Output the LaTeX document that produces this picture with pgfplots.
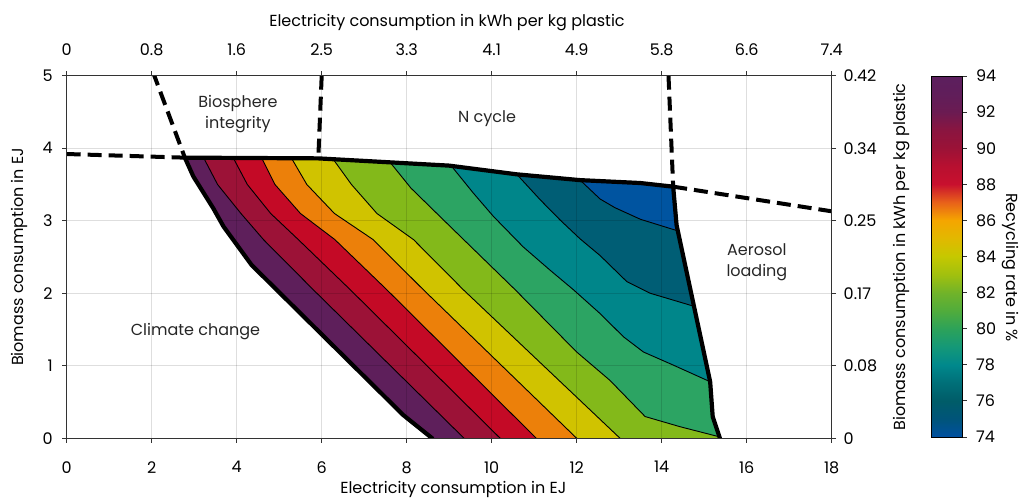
\documentclass[border=0pt]{standalone}
\usepackage{pgfplots}
\pgfplotsset{compat=1.18}
\usepackage{fontspec}
\setmainfont{Poppins}
\definecolor{cPur}{HTML}{5E1F5B}
\definecolor{cCri}{HTML}{9C1237}
\definecolor{cRed}{HTML}{C40A26}
\definecolor{cOra}{HTML}{EC800A}
\definecolor{cYel}{HTML}{D0C300}
\definecolor{cLim}{HTML}{83B91A}
\definecolor{cGre}{HTML}{2CA463}
\definecolor{cTea}{HTML}{00868A}
\definecolor{cDte}{HTML}{005E75}
\definecolor{cBlu}{HTML}{0054A0}
\definecolor{axgray}{HTML}{333333}
\newcommand\fs{\fontsize{16bp}{21bp}\selectfont}
\pgfplotsset{
  /pgf/number format/assume math mode=true,
  every axis/.append style={font=\fs},
  boundary/.style={black, line width=4.2bp, line join=round, line cap=round, forget plot},
  bdash/.style={black, line width=4bp, dash pattern=on 14bp off 7bp, forget plot},
  cline/.style={black, line width=0.9bp, line join=round, forget plot},
  band/.style={draw=none, forget plot},
}
\begin{document}
\fs
\begin{tikzpicture}
\path[use as bounding box] (-66.7bp,-59.7bp) rectangle (957.3bp,438.3bp);
\begin{axis}[
  at={(0,0)}, anchor=south west,
  scale only axis, width=765bp, height=362.6bp,
  xmin=0, xmax=18, ymin=0, ymax=5,
  xtick={0,2,...,18}, ytick={0,1,...,5},
  tick pos=left, tick align=outside,
  major tick length=4.5bp,
  every tick/.append style={axgray, line width=0.8bp},
  axis line style={axgray, line width=0.8bp},
  grid=major, major grid style={black, opacity=0.13, line width=0.8bp},
  axis on top,
  xticklabel shift=13bp, yticklabel shift=4bp,
  xlabel={Electricity consumption in EJ},
  ylabel={Biomass consumption in EJ},
  xlabel style={at={(axis description cs:0.5054,-0.1515)}, anchor=base},
  ylabel style={at={(axis description cs:-0.05647,0.5)}, anchor=base},
]
% bands (layered)
\addplot[band, fill=cPur] coordinates {(2.78,3.87) (2.98,3.61) (3.45,3.17) (3.69,2.92) (4.35,2.39) (7.92,0.32) (8.6,0) (15.37,0) (15.2,0.3) (15.14,0.78) (14.35,2.94) (14.27,3.47) (13.5,3.52) (12.08,3.56) (10.59,3.64) (9.0,3.76) (5.92,3.86)};
\addplot[band, fill=cCri] coordinates {(3.22,3.87) (3.55,3.5) (4.1,3.1) (4.63,2.74) (5.80,2.05) (9.35,0) (15.37,0) (15.2,0.3) (15.14,0.78) (14.35,2.94) (14.27,3.47) (13.5,3.52) (12.08,3.56) (10.59,3.64) (9.0,3.76) (5.92,3.86)};
\addplot[band, fill=cRed] coordinates {(3.92,3.866) (4.25,3.5) (4.8,3.1) (5.45,2.74) (6.67,2.05) (10.2,0) (15.37,0) (15.2,0.3) (15.14,0.78) (14.35,2.94) (14.27,3.47) (13.5,3.52) (12.08,3.56) (10.59,3.64) (9.0,3.76) (5.92,3.86)};
\addplot[band, fill=cOra] coordinates {(4.59,3.864) (4.9,3.5) (5.5,3.1) (6.31,2.74) (7.53,2.05) (11.05,0) (15.37,0) (15.2,0.3) (15.14,0.78) (14.35,2.94) (14.27,3.47) (13.5,3.52) (12.08,3.56) (10.59,3.64) (9.0,3.76) (5.92,3.86)};
\addplot[band, fill=cYel] coordinates {(5.29,3.862) (5.65,3.5) (6.3,3.1) (7.21,2.74) (8.39,2.05) (12.0,0) (15.37,0) (15.2,0.3) (15.14,0.78) (14.35,2.94) (14.27,3.47) (13.5,3.52) (12.08,3.56) (10.59,3.64) (9.0,3.76) (5.92,3.86)};
\addplot[band, fill=cLim] coordinates {(6.27,3.849) (6.7,3.5) (7.3,3.1) (8.16,2.74) (9.33,2.05) (13.02,0) (15.37,0) (15.2,0.3) (15.14,0.78) (14.35,2.94) (14.27,3.47) (13.5,3.52) (12.08,3.56) (10.59,3.64) (9.0,3.76)};
\addplot[band, fill=cGre] coordinates {(7.61,3.805) (8.1,3.45) (8.78,3.06) (9.34,2.74) (10.55,2.05) (12.0,1.19) (12.78,0.8) (13.61,0.30) (14.43,0.16) (15.36,0.02) (15.2,0.3) (15.14,0.78) (14.35,2.94) (14.27,3.47) (13.5,3.52) (12.08,3.56) (10.59,3.64) (9.0,3.76)};
\addplot[band, fill=cTea] coordinates {(9.05,3.756) (9.57,3.38) (10.04,3.06) (10.74,2.64) (11.37,2.32) (11.92,2.05) (12.55,1.72) (13.1,1.40) (13.57,1.19) (14.27,1.01) (15.14,0.78) (14.35,2.94) (14.27,3.47) (13.5,3.52) (12.08,3.56) (10.59,3.64)};
\addplot[band, fill=cDte] coordinates {(10.59,3.64) (11.14,3.29) (11.61,3.01) (12.08,2.75) (12.55,2.52) (13.18,2.16) (13.73,2.0) (14.76,1.82) (14.35,2.94) (14.27,3.47) (13.5,3.52) (12.08,3.56)};
\addplot[band, fill=cBlu] coordinates {(12.08,3.56) (12.55,3.3) (12.9,3.18) (13.5,3.02) (14.38,2.86) (14.35,2.94) (14.27,3.47) (13.5,3.52)};
% contour lines
\addplot[cline] coordinates {(3.22,3.87) (3.55,3.5) (4.1,3.1) (4.63,2.74) (5.80,2.05) (9.35,0)};
\addplot[cline] coordinates {(3.92,3.866) (4.25,3.5) (4.8,3.1) (5.45,2.74) (6.67,2.05) (10.2,0)};
\addplot[cline] coordinates {(4.59,3.864) (4.9,3.5) (5.5,3.1) (6.31,2.74) (7.53,2.05) (11.05,0)};
\addplot[cline] coordinates {(5.29,3.862) (5.65,3.5) (6.3,3.1) (7.21,2.74) (8.39,2.05) (12.0,0)};
\addplot[cline] coordinates {(6.27,3.849) (6.7,3.5) (7.3,3.1) (8.16,2.74) (9.33,2.05) (13.02,0)};
\addplot[cline] coordinates {(7.61,3.805) (8.1,3.45) (8.78,3.06) (9.34,2.74) (10.55,2.05) (12.0,1.19) (12.78,0.8) (13.61,0.30) (14.43,0.16) (15.36,0.02)};
\addplot[cline] coordinates {(9.05,3.756) (9.57,3.38) (10.04,3.06) (10.74,2.64) (11.37,2.32) (11.92,2.05) (12.55,1.72) (13.1,1.40) (13.57,1.19) (14.27,1.01) (15.14,0.78)};
\addplot[cline] coordinates {(10.59,3.64) (11.14,3.29) (11.61,3.01) (12.08,2.75) (12.55,2.52) (13.18,2.16) (13.73,2.0) (14.76,1.82)};
\addplot[cline] coordinates {(12.08,3.56) (12.55,3.3) (12.9,3.18) (13.5,3.02) (14.38,2.86)};
% dashed boundary extensions
\addplot[bdash] coordinates {(2.03,5.05) (2.78,3.87)};
\addplot[bdash] coordinates {(6.0,5.0) (5.92,3.86)};
\addplot[bdash] coordinates {(0,3.92) (2.78,3.87)};
\addplot[bdash] coordinates {(14.27,3.47) (18,3.13)};
\addplot[bdash] coordinates {(14.16,5.0) (14.27,3.47)};
% feasible region boundary
\addplot[boundary] coordinates {(8.6,0) (7.92,0.32) (4.35,2.39) (3.69,2.92) (3.45,3.17) (2.98,3.61) (2.78,3.87) (5.92,3.86) (9.0,3.76) (10.59,3.64) (12.08,3.56) (13.5,3.52) (14.27,3.47) (14.35,2.94) (15.14,0.78) (15.2,0.3) (15.37,0)};
% region labels
\node[align=center, text=black!85] at (axis cs:4.03,4.47) {Biosphere\\integrity};
\node[text=black!85] at (axis cs:9.89,4.41) {N cycle};
\node[text=black!85] at (axis cs:3.03,1.47) {Climate change};
\node[align=center, text=black!85] at (axis cs:16.24,2.43) {Aerosol\\loading};
\end{axis}
\begin{axis}[
  at={(0,0)}, anchor=south west,
  scale only axis, width=765bp, height=362.6bp,
  xmin=0, xmax=18, ymin=0, ymax=5,
  axis x line*=top, axis y line*=right,
  xtick={0,2,...,18}, ytick={0,1,...,5},
  xticklabels={0,0.8,1.6,2.5,3.3,4.1,4.9,5.8,6.6,7.4},
  yticklabels={0,0.08,0.17,0.25,0.34,0.42},
  tick align=outside, major tick length=4.5bp,
  every tick/.append style={axgray, line width=0.8bp},
  axis line style={axgray, line width=0.8bp},
  xticklabel shift=10bp, yticklabel shift=2bp,
  xlabel={Electricity consumption in kWh per kg plastic},
  ylabel={Biomass consumption in kWh per kg plastic},
  xlabel style={at={(axis description cs:0.4971,1.1351)}, anchor=base},
  ylabel style={at={(axis description cs:1.0971,0.5)}, anchor=base},
]
\addplot[draw=none, forget plot] coordinates {(0,0) (18,5)};
\end{axis}
\begin{axis}[
  at={(864.3bp,1.3bp)}, anchor=south west,
  scale only axis, width=31bp, height=361bp,
  xmin=0, xmax=1, ymin=74, ymax=94,
  xtick=\empty, ytick={74,76,...,94},
  ytick pos=right, yticklabel pos=right,
  tick align=outside, major tick length=4.5bp,
  yticklabel shift=4bp,
  every tick/.append style={axgray, line width=0.8bp},
  axis line style={black, line width=0.8bp},
  axis on top,
  colormap={recyc}{rgb255(0pt)=(0,80,160); rgb255(1pt)=(0,84,122); rgb255(2pt)=(0,92,104);
    rgb255(3pt)=(0,111,120); rgb255(4pt)=(0,136,140); rgb255(5pt)=(20,152,120);
    rgb255(6pt)=(44,162,90); rgb255(7pt)=(80,172,60); rgb255(8pt)=(112,179,42);
    rgb255(9pt)=(160,192,15); rgb255(10pt)=(198,200,0); rgb255(11pt)=(226,184,0);
    rgb255(12pt)=(245,165,0); rgb255(13pt)=(232,96,26); rgb255(14pt)=(200,16,46);
    rgb255(15pt)=(184,16,48); rgb255(16pt)=(155,18,55); rgb255(17pt)=(138,21,64);
    rgb255(18pt)=(107,27,82); rgb255(19pt)=(96,30,90); rgb255(20pt)=(92,31,94)},
  point meta min=74, point meta max=94,
  ylabel={Recycling rate in \%},
  ylabel style={at={(axis description cs:2.435,0.4695)}, anchor=base, rotate=180},
]
\addplot[surf, shader=interp, point meta=y, mesh/rows=21, mesh/cols=2] coordinates {
(0,74) (1,74) (0,75) (1,75) (0,76) (1,76) (0,77) (1,77) (0,78) (1,78)
(0,79) (1,79) (0,80) (1,80) (0,81) (1,81) (0,82) (1,82) (0,83) (1,83)
(0,84) (1,84) (0,85) (1,85) (0,86) (1,86) (0,87) (1,87) (0,88) (1,88)
(0,89) (1,89) (0,90) (1,90) (0,91) (1,91) (0,92) (1,92) (0,93) (1,93)
(0,94) (1,94)};
\end{axis}
\end{tikzpicture}
\end{document}
